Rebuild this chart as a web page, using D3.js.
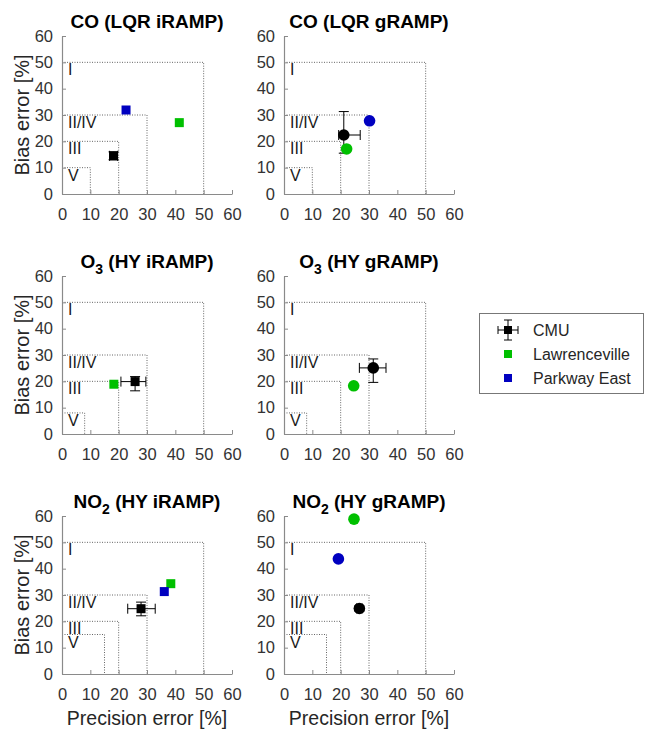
<!DOCTYPE html>
<html><head><meta charset="utf-8">
<script src="https://cdn.jsdelivr.net/npm/d3@7"></script>
<style>
body{margin:0;background:#fff;}
svg{display:block;font-family:"Liberation Sans",Arial,sans-serif;}
</style></head>
<body>
<svg id="chart" width="646" height="730"></svg>
<script>
// ---- data ----
const titleMain = ["CO", "CO", "O", "O", "NO", "NO"];
const titleSub  = ["", "", "3", "3", "2", "2"];
const titleRest = [" (LQR iRAMP)", " (LQR gRAMP)", " (HY iRAMP)", " (HY gRAMP)", " (HY iRAMP)", " (HY gRAMP)"];
const markerShape = ["square", "circle", "square", "circle", "square", "circle"];

const tierI   = [50, 50, 50, 50, 50, 50];
const tierII  = [30, 30, 30, 30, 30, 30];
const tierIII = [20, 20, 20, 20, 20, 20];
const tierV   = [10, 10, 8, 8, 15, 15];
const tierLabels = ["I", "II/IV", "III", "V"];

const cmuX   = [18.2, 21.1, 25.8, 31.5, 27.9, 26.6];
const cmuY   = [14.5, 22.4, 19.9, 25.1, 24.8, 24.9];
const cmuXLo = [16.8, 19.3, 20.8, 26.6, 23.2, 25.6];
const cmuXHi = [19.6, 26.9, 29.6, 36.0, 32.9, 27.6];
const cmuYLo = [13.0, 15.5, 16.4, 19.6, 22.1, 23.9];
const cmuYHi = [16.0, 31.3, 21.8, 28.5, 27.3, 25.9];

const lawX = [41.4, 22.1, 18.3, 24.6, 38.4, 24.7];
const lawY = [27.1, 17.1, 18.9, 18.3, 34.3, 58.8];
const pkwX = [22.6, 30.2, null, null, 36.1, 19.2];
const pkwY = [31.9, 27.8, null, null, 31.3, 43.7];

const seriesNames = ["CMU", "Lawrenceville", "Parkway East"];
const seriesColors = ["#000000", "#00c000", "#0000c0"];
const ticks = [0, 10, 20, 30, 40, 50, 60];

// ---- layout ----
const svg = d3.select("#chart");
const colX = [62, 284];
const rowY = [36, 276, 516];
const pw = 170, ph = 158;
const axisColor = "#8a8a8a", textColor = "#262626";

for (let i = 0; i < 6; i++) {
  const x0 = colX[i % 2], y0 = rowY[Math.floor(i / 2)];
  const x = d3.scaleLinear().domain([0, 60]).range([0, pw]);
  const y = d3.scaleLinear().domain([0, 60]).range([ph, 0]);
  const g = svg.append("g").attr("transform", `translate(${x0},${y0})`);

  // title
  const t = g.append("text").attr("x", pw / 2).attr("y", -8)
    .attr("text-anchor", "middle").attr("font-size", 19).attr("font-weight", "bold")
    .attr("fill", "#000");
  t.append("tspan").text(titleMain[i]);
  if (titleSub[i]) t.append("tspan").attr("font-size", 14).attr("dy", 6).text(titleSub[i]);
  t.append("tspan").attr("dy", titleSub[i] ? -6 : 0).text(titleRest[i]);

  // tier boxes (dotted)
  const tiers = [tierI[i], tierII[i], tierIII[i], tierV[i]];
  tiers.forEach((v, k) => {
    g.append("path")
      .attr("d", `M${x(0)},${y(v)}H${x(v)}V${y(0)}`)
      .attr("fill", "none").attr("stroke", "#666").attr("stroke-width", 1)
      .attr("stroke-dasharray", "1,1.5");
    g.append("text").attr("x", x(0) + 6).attr("y", y(v) + 13)
      .attr("font-size", 16).attr("fill", "#1a1a1a").text(tierLabels[k]);
  });

  // axes
  const ax = g.append("g").attr("transform", `translate(0,${ph})`)
    .call(d3.axisBottom(x).tickValues(ticks).tickSizeInner(-4).tickSizeOuter(0).tickPadding(14));
  const ay = g.append("g")
    .call(d3.axisLeft(y).tickValues(ticks).tickSizeInner(-4).tickSizeOuter(0).tickPadding(9));
  [ax, ay].forEach(a => {
    a.select(".domain").attr("stroke", axisColor).attr("stroke-width", 1.2);
    a.selectAll(".tick line").attr("stroke", axisColor);
    a.selectAll(".tick text").attr("font-size", 16.5).attr("fill", "#333")
      .attr("font-family", "Liberation Sans, Arial, sans-serif");
  });

  // axis labels
  if (i % 2 === 0) {
    svg.append("text").attr("transform", `translate(29,${y0 + ph / 2}) rotate(-90)`)
      .attr("text-anchor", "middle").attr("font-size", 20).attr("fill", textColor)
      .text("Bias error [%]");
  }
  if (i >= 4) {
    g.append("text").attr("x", pw / 2).attr("y", ph + 51).attr("text-anchor", "middle")
      .attr("font-size", 19.5).attr("fill", textColor).text("Precision error [%]");
  }

  // CMU error bars
  const cap = 5;
  const eb = g.append("g").attr("stroke", "#000").attr("stroke-width", 1).attr("fill", "none");
  eb.append("path").attr("d",
    `M${x(cmuXLo[i])},${y(cmuY[i])}H${x(cmuXHi[i])}` +
    `M${x(cmuXLo[i])},${y(cmuY[i]) - cap}V${y(cmuY[i]) + cap}` +
    `M${x(cmuXHi[i])},${y(cmuY[i]) - cap}V${y(cmuY[i]) + cap}` +
    `M${x(cmuX[i])},${y(cmuYLo[i])}V${y(cmuYHi[i])}` +
    `M${x(cmuX[i]) - cap},${y(cmuYLo[i])}H${x(cmuX[i]) + cap}` +
    `M${x(cmuX[i]) - cap},${y(cmuYHi[i])}H${x(cmuX[i]) + cap}`);

  const pts = [
    [cmuX[i], cmuY[i], seriesColors[0]],
    [lawX[i], lawY[i], seriesColors[1]],
    [pkwX[i], pkwY[i], seriesColors[2]]
  ].filter(p => p[0] != null);

  pts.forEach(p => {
    if (markerShape[i] === "square") {
      g.append("rect").attr("x", x(p[0]) - 4.5).attr("y", y(p[1]) - 4.5)
        .attr("width", 9).attr("height", 9).attr("fill", p[2]);
    } else {
      g.append("circle").attr("cx", x(p[0])).attr("cy", y(p[1])).attr("r", 5.8).attr("fill", p[2]);
    }
  });
}

// ---- legend ----
const lg = svg.append("g");
lg.append("rect").attr("x", 479.5).attr("y", 313.5).attr("width", 164).attr("height", 80)
  .attr("fill", "#fff").attr("stroke", "#777").attr("stroke-width", 1);
seriesNames.forEach((name, k) => {
  const cy = 330 + k * 24, cx = 508;
  if (k === 0) {
    lg.append("path").attr("d",
      `M${cx - 10},${cy}H${cx + 10}M${cx - 10},${cy - 4}V${cy + 4}M${cx + 10},${cy - 4}V${cy + 4}` +
      `M${cx},${cy - 10}V${cy + 10}M${cx - 4},${cy - 10}H${cx + 4}M${cx - 4},${cy + 10}H${cx + 4}`)
      .attr("stroke", "#000").attr("fill", "none");
  }
  lg.append("rect").attr("x", cx - 4).attr("y", cy - 4).attr("width", 8).attr("height", 8)
    .attr("fill", seriesColors[k]);
  lg.append("text").attr("x", 533).attr("y", cy + 5.5).attr("font-size", 16)
    .attr("fill", textColor).text(name);
});
</script>
</body></html>
